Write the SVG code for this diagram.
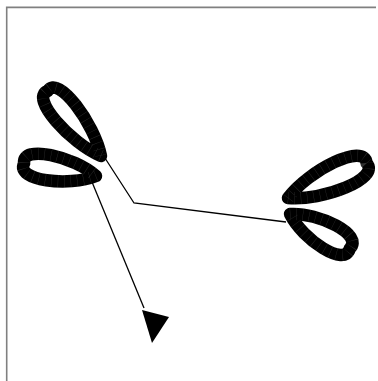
<svg xmlns="http://www.w3.org/2000/svg" width="378" height="381" viewBox="0 0 378 381">
<style>
.frame{stroke:#808080;stroke-width:1.6;fill:none}
.loop{fill:none;stroke:#000;stroke-width:12.5;stroke-linejoin:round}
.tick{fill:none;stroke:#fff;stroke-width:12.5;stroke-dasharray:0.4 6;opacity:0.18}
.edge{fill:none;stroke:#000;stroke-width:1.3}
</style>
<defs>
<path id="lp1" d="M0,0 C29,-15.5 91,-18.5 84,0 C91,18.5 29,15.5 0,0 Z"/>
<path id="lp2" d="M0,0 C25,-15.5 79,-18.5 73,0 C79,18.5 25,15.5 0,0 Z"/>
<path id="lp3" d="M0,0 C30,-17 93,-20 86,0 C93,20 30,17 0,0 Z"/>
<path id="lp4" d="M0,0 C24,-16 75,-19 69,0 C75,19 24,16 0,0 Z"/>
</defs>
<rect width="378" height="381" fill="#fff"/>
<path class="frame" d="M6.7,381 V7.4 H376"/>
<g id="connectors">
<path class="edge" d="M103,155 L134,203 L286,222"/>
<path class="edge" d="M92,182 L144,308"/>
<polygon points="142,310 169,317 152,343" fill="#000"/>
</g>
<g id="node-left">
<g transform="translate(101,156) rotate(-129.3)"><use href="#lp1" class="loop"/><use href="#lp1" class="tick"/></g>
<g transform="translate(96,176) rotate(-170)"><use href="#lp2" class="loop"/><use href="#lp2" class="tick"/></g>
</g>
<g id="node-right">
<g transform="translate(288,198) rotate(-24)"><use href="#lp3" class="loop"/><use href="#lp3" class="tick"/></g>
<g transform="translate(290,214) rotate(30)"><use href="#lp4" class="loop"/><use href="#lp4" class="tick"/></g>
</g>
</svg>
